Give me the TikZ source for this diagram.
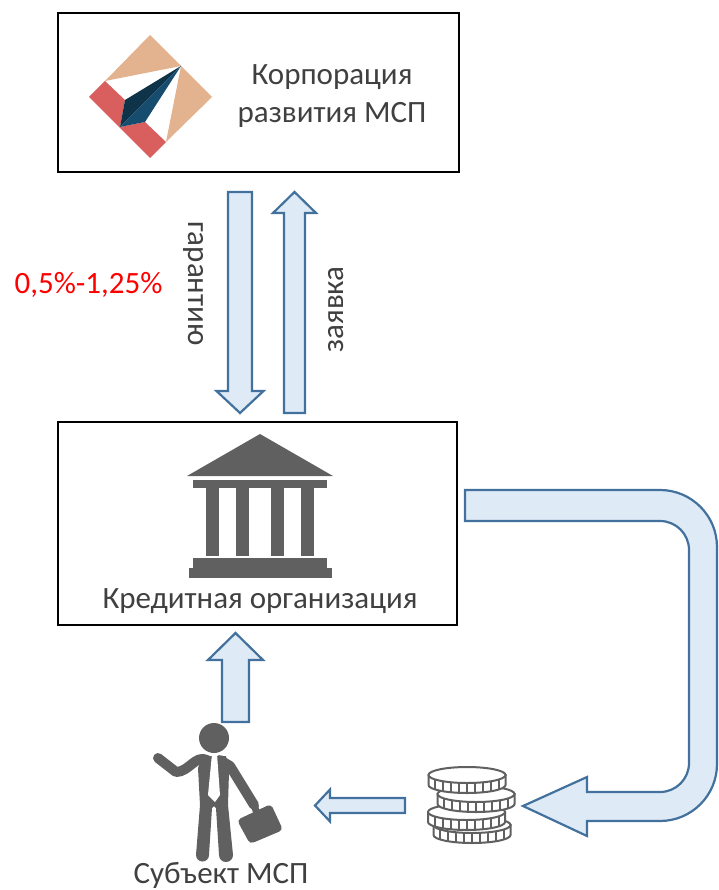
\documentclass[tikz,border=0pt]{standalone}
\usepackage{fontspec}
\setmainfont{Carlito}
\usetikzlibrary{calc}
\definecolor{arrowfill}{HTML}{DEEAF6}
\definecolor{arrowline}{HTML}{41719C}
\definecolor{icongray}{HTML}{606060}
\definecolor{textgray}{HTML}{404040}
\definecolor{logopeach}{HTML}{E3B28F}
\definecolor{logored}{HTML}{D95F5F}
\definecolor{logonavy}{HTML}{164D6E}
\definecolor{logodark}{HTML}{0F3349}
\tikzset{
  box/.style={draw=black,line width=2pt,inner sep=0pt},
  blockline/.style={draw=arrowline,fill=arrowfill,line width=2.2pt,line join=miter},
  icon/.style={fill=icongray,draw=none},
  limb/.style={draw=icongray,line width=10pt,line cap=round,line join=round},
  label/.style={text=textgray,font=\fontsize{31}{38}\selectfont,inner sep=0pt,align=center},
  coinline/.style={draw=icongray,line width=2pt,fill=white}
}
% from, to, half shaft, half head, head length
\newcommand{\blockarrow}[5]{
  \coordinate (hb) at ($(#2)!#5!(#1)$);
  \draw[blockline]($(#1)!#3!90:(#2)$)--($(hb)!#3!90:(#2)$)--($(hb)!#4!90:(#2)$)--(#2)
    --($(hb)!#4!-90:(#2)$)--($(hb)!#3!-90:(#2)$)--($(#1)!#3!-90:(#2)$)--cycle;
}
\begin{document}
\begin{tikzpicture}[x=1pt,y=-1pt]
\useasboundingbox (0,0) rectangle (718,890);
% boxes
\node[box,minimum width=401pt,minimum height=159pt] (corpbox) at (258.5,92.5) {};
\node[box,minimum width=399pt,minimum height=203pt] (bankbox) at (257.5,523.5) {};
\node[label] (corp) at (332,96) {Корпорация\\развития МСП};
\node[label] (bank) at (260,601) {Кредитная организация};
\node[label,anchor=base] (smb) at (221,883.5) {Субъект МСП};
\node[label,text=red] (rate) at (88.5,285) {0,5\%-1,25\%};
\node[label,rotate=-90] (guarantee) at (194,283.5) {гарантию};
\node[label,rotate=90] (request) at (336,309.5) {заявка};
% logo
\fill[logopeach](150,35)--(181,66)--(105,81)--cycle;
\fill[logopeach](181,66)--(212,97)--(166,142)--cycle;
\fill[logored](89,97)--(105,81)--(125,100)--(120,127)--(145,122)--(166,142)--(150,158)--cycle;
\fill[logodark](181,66)--(125,100)--(120,127)--cycle;
\fill[logonavy](181,66)--(120,127)--(145,122)--cycle;
% bank icon
\fill[icon](260,434)--(333,476)--(187,476)--cycle;
\fill[icon](193,480)rectangle(327,488);
\foreach \colx in {206,236,271,301}
  \fill[icon](\colx,488)rectangle(\colx+13,556);
\fill[icon](193,558)rectangle(327,568);
\fill[icon](189,568)rectangle(332,578);
% arrows
\coordinate (guarantA) at (240,192);
\coordinate (guarantB) at (240,413);
\coordinate (requestA) at (294.5,413);
\coordinate (requestB) at (294.5,192);
\coordinate (applyA) at (235.5,722);
\coordinate (applyB) at (235.5,633);
\coordinate (loanA) at (405,805.5);
\coordinate (loanB) at (315,805.5);
\blockarrow{guarantA}{guarantB}{12pt}{23.5pt}{22pt}
\blockarrow{requestA}{requestB}{10.5pt}{21.5pt}{21pt}
\blockarrow{applyA}{applyB}{13.5pt}{27.5pt}{27pt}
\blockarrow{loanA}{loanB}{7.5pt}{16pt}{15pt}
\draw[blockline](465,490)--(660,490)arc[start angle=-90,end angle=0,radius=57]
  --(717,764)arc[start angle=0,end angle=90,radius=57]--(587,821)--(587,836)--(523,806)
  --(587,777)--(587,792)--(660,792)arc[start angle=90,end angle=0,radius=29]
  --(689,550)arc[start angle=0,end angle=-90,radius=29]--(465,521)--cycle;
% coins, lowest first
\foreach \cx/\cy in {472/825,466.5/812,476/794,467/775}{
  \draw[coinline](\cx-38.5,\cy)--(\cx-38.5,\cy+10)arc[start angle=180,end angle=0,x radius=38.5,y radius=8]
    --(\cx+38.5,\cy)--cycle;
  \foreach \i in {-4,...,4}
    \draw[icongray,line width=2pt](\cx+\i*8,{\cy+8*sqrt(1-(\i*8/38.5)*(\i*8/38.5))})--(\cx+\i*8,{\cy+10+8*sqrt(1-(\i*8/38.5)*(\i*8/38.5))});
  \draw[coinline](\cx,\cy)ellipse[x radius=38.5,y radius=8];
}
% person
\fill[icon](214,738)circle[radius=15];
\draw[limb](158,758)--(176,772)to[out=0,in=155](207,760);
\draw[limb,line join=round](220,760)--(230,766)--(254,805);
\draw[icongray,line width=7pt](254,805)--(258,816);
\fill[icon](203,756)--(226,756)--(229,772)--(228,805)--(233,855)
  arc[start angle=0,end angle=180,radius=7]--(216,808)--(214,806)--(212,808)--(209,855)
  arc[start angle=0,end angle=180,radius=6.5]--(200,805)--(198,768)--cycle;
\fill[white](212,754)--(217,754)--(220,795)--(215,802)--(208,795)--cycle;
\fill[icon,rounded corners=4pt](237,820)--(271,804)--(283,830)--(250,844)--cycle;
\end{tikzpicture}
\end{document}
